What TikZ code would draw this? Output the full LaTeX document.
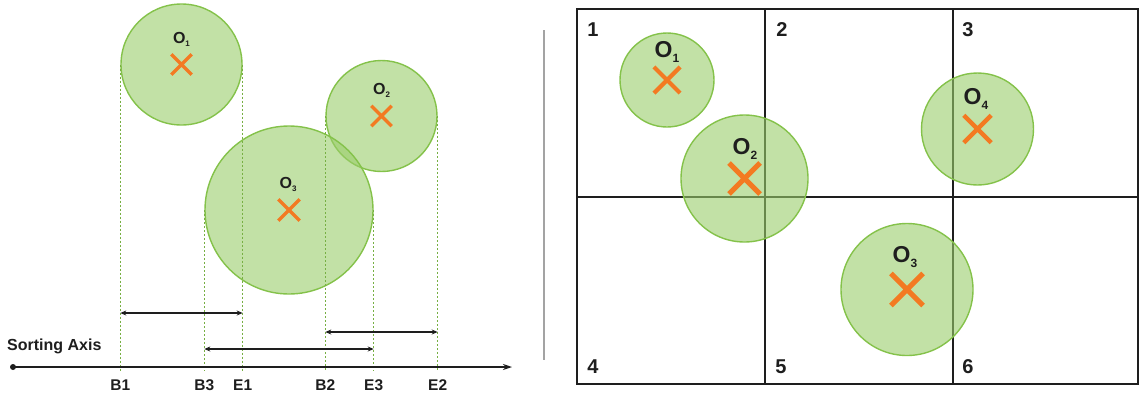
\documentclass[tikz,border=0pt]{standalone}
\usepackage{fontspec}
\setmainfont{Liberation Sans}
\usetikzlibrary{arrows.meta, positioning, calc, shapes.misc}
\definecolor{leafline}{HTML}{84C24A}
\definecolor{leaffill}{HTML}{9ACD6A}
\definecolor{crossorange}{HTML}{F37A22}
\definecolor{rulegray}{HTML}{A3A3A3}
\definecolor{inkdark}{HTML}{1E1E1E}
\newcommand{\objname}[2]{O\raisebox{-0.35ex}{\fontsize{#2}{#2}\selectfont #1}}
\tikzset{
  obj/.style={circle, draw=leafline, line width=1.4pt, fill=leaffill, fill opacity=0.6,
              inner sep=0pt, minimum size=#1},
  hit/.style={cross out, draw=crossorange, inner sep=0pt, minimum size=#1, line width=#1/5.2},
  olbl/.style={font=\fontsize{16}{16}\selectfont\bfseries, inner sep=0pt, text=inkdark},
  bigolbl/.style={font=\fontsize{23}{23}\selectfont\bfseries, inner sep=0pt, text=inkdark},
  ticklbl/.style={font=\fontsize{15.5}{15.5}\selectfont\bfseries, inner sep=0pt, text=inkdark},
  cellnum/.style={font=\fontsize{20}{20}\selectfont\bfseries, inner sep=0pt, text=inkdark},
  guide/.style={draw=leafline!90!black, line width=1.3pt, dash pattern=on 2pt off 2pt, shorten >=-4pt},
  span/.style={{Stealth[length=6pt, width=5pt]}-{Stealth[length=6pt, width=5pt]}, line width=1.2pt, inkdark},
  axisline/.style={-{Stealth[length=9pt, width=6pt]}, line width=1.3pt, inkdark},
  gridline/.style={line width=1.8pt, inkdark},
}
\begin{document}
\begin{tikzpicture}[x=1pt, y=-1pt]
  \useasboundingbox (0,0) rectangle (1143,397);

  % sorting axis
  \coordinate (ax) at (13,367);
  \coordinate (axend) at (512,367);
  \coordinate (row1) at (0,313);
  \coordinate (row2) at (0,332);
  \coordinate (row3) at (0,349);
  \coordinate (lab) at (0,385);

  % left objects
  \node[obj=121] (l1) at (181.5,64.5) {};
  \node[obj=111] (l2) at (381.5,116) {};
  \node[obj=168] (l3) at (289,210) {};

  % projections onto the axis
  \foreach \o in {l1,l2,l3}{
    \draw[guide] (\o.west) -- (\o.west |- ax);
    \draw[guide] (\o.east) -- (\o.east |- ax);
  }

  \node[hit=17] (x1) at (l1.center) {};
  \node[hit=17] (x2) at (l2.center) {};
  \node[hit=18] (x3) at (l3.center) {};
  \node[olbl] (n1) at (181.5,39) {\objname{1}{8}};
  \node[olbl] (n2) at (381.5,90) {\objname{2}{8}};
  \node[olbl] (n3) at (288,184) {\objname{3}{8}};

  \fill[inkdark] (ax) circle (3pt);
  \draw[axisline] (ax) -- (axend);
  \node[font=\fontsize{16}{16}\selectfont\bfseries, text=inkdark, anchor=west, inner sep=0pt] (sort) at (7,346) {Sorting Axis};

  % intervals
  \draw[span] (l1.west |- row1) -- (l1.east |- row1);
  \draw[span] (l2.west |- row2) -- (l2.east |- row2);
  \draw[span] (l3.west |- row3) -- (l3.east |- row3);

  \node[ticklbl] (b1) at (l1.west |- lab) {B1};
  \node[ticklbl] (e1) at (l1.east |- lab) {E1};
  \node[ticklbl] (b2) at (l2.west |- lab) {B2};
  \node[ticklbl] (e2) at (l2.east |- lab) {E2};
  \node[ticklbl] (b3) at (l3.west |- lab) {B3};
  \node[ticklbl] (e3) at (l3.east |- lab) {E3};

  % divider
  \draw[rulegray, line width=2.5pt] (544,30) -- (544,360);

  % grid of cells
  \draw[gridline] (577,9) rectangle (1138,384);
  \draw[gridline] (765,9) -- (765,384);
  \draw[gridline] (953,9) -- (953,384);
  \draw[gridline] (577,197) -- (1138,197);
  \node[cellnum] (c1) at (593,30) {1};
  \node[cellnum] (c2) at (782,30) {2};
  \node[cellnum] (c3) at (968,30) {3};
  \node[cellnum] (c4) at (593,367) {4};
  \node[cellnum] (c5) at (781,367) {5};
  \node[cellnum] (c6) at (968,367) {6};

  % right objects
  \node[obj=94] (r1) at (667,80) {};
  \node[obj=127] (r2) at (744.5,178.5) {};
  \node[obj=132] (r3) at (907,289.5) {};
  \node[obj=112] (r4) at (977.5,129) {};
  \node[hit=22] (y1) at (r1.center) {};
  \node[hit=26] (y2) at (r2.center) {};
  \node[hit=27] (y3) at (r3.center) {};
  \node[hit=23] (y4) at (r4.center) {};
  \node[bigolbl] (m1) at (667,52) {\objname{1}{12}};
  \node[bigolbl] (m2) at (745,149) {\objname{2}{12}};
  \node[bigolbl] (m3) at (905,257) {\objname{3}{12}};
  \node[bigolbl] (m4) at (976,99) {\objname{4}{12}};
\end{tikzpicture}
\end{document}
